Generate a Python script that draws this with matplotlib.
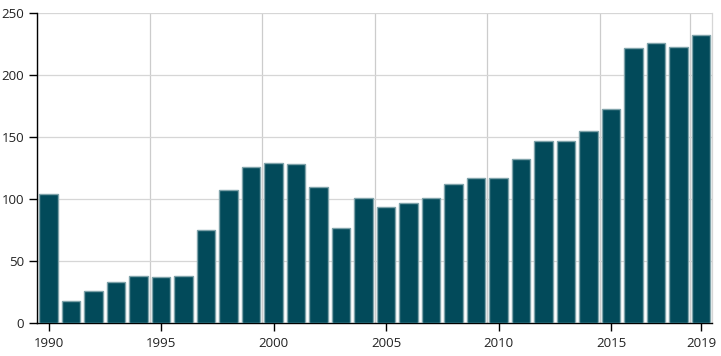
import matplotlib
matplotlib.use('Agg')
import matplotlib.pyplot as plt
import numpy as np

plt.rcParams['font.family'] = ['Open Sans', 'DejaVu Sans']

years = list(range(1990, 2020))
values = [104, 17.5, 25.5, 33, 38, 37, 38, 75, 107, 126, 129, 128, 109.5, 76.5,
          101, 94, 97, 101, 112, 117, 117, 132, 147, 147, 155, 173, 222, 226, 223, 232.5]
xticks = [1990, 1995, 2000, 2005, 2010, 2015, 2019]
yticks = [0, 50, 100, 150, 200, 250]

fig = plt.figure(figsize=(7.21, 3.56), dpi=100)
ax = fig.add_axes([37.3 / 721, 1 - 323 / 356, 675 / 721, 309.7 / 356])

ax.bar(years, values, width=0.82, color='#024a5a', edgecolor='#7fa3aa', linewidth=1.0, zorder=3)

ax.set_xlim(1989.5, 2019.5)
ax.set_ylim(0, 250)

ax.set_xticks(xticks)
ax.set_xticklabels([str(t) for t in xticks])
ax.set_yticks(yticks)
ax.tick_params(axis='both', labelsize=9.5, color='black', length=6, width=1, labelcolor='#222222')
ax.tick_params(axis='x', pad=4)

# grid lines sit half a slot left of the ticks
for t in xticks:
    ax.axvline(t - 0.5, color='#cccccc', linewidth=0.9, zorder=0)
for t in yticks[1:]:
    ax.axhline(t, color='#d6d6d6', linewidth=0.9, zorder=0)

ax.spines['top'].set_visible(False)
ax.spines['right'].set_color('#d6d6d6')
ax.spines['right'].set_linewidth(0.9)
ax.spines['left'].set_color('black')
ax.spines['bottom'].set_color('black')
ax.spines['left'].set_linewidth(1)
ax.spines['bottom'].set_linewidth(1)

fig.savefig('out.png', dpi=100)
